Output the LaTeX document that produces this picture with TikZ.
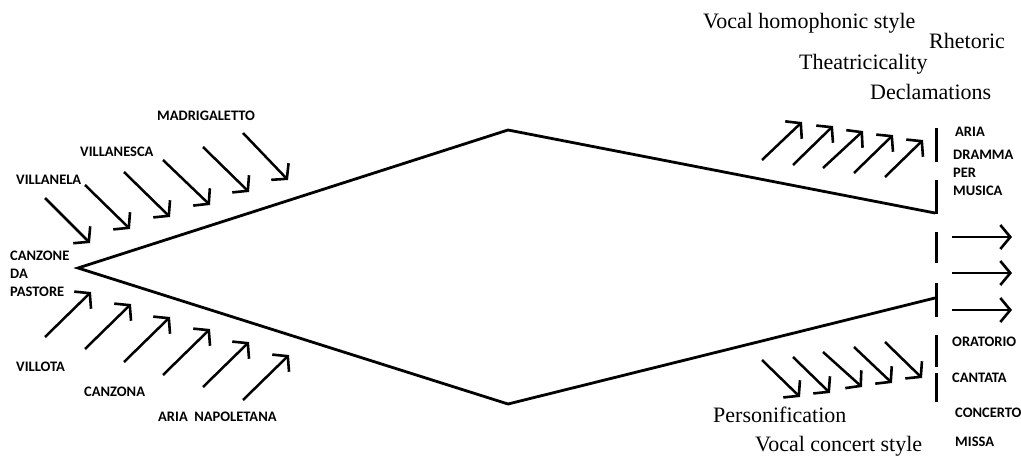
\documentclass[tikz,border=0pt]{standalone}
\usepackage{fontspec}
\setmainfont{Liberation Serif}
\newfontfamily\capsfont[BoldFont={Carlito Bold}]{Carlito}
\usetikzlibrary{arrows.meta}
\tikzset{
  arr/.style={line width=2.5pt, -{Straight Barb[length=10pt,width=24pt,line width=2.6pt]}},
  outline/.style={line width=2.8pt, line join=miter},
  bar/.style={line width=3pt},
  caps/.style={font=\capsfont\bfseries\fontsize{14.5}{18}\selectfont, inner sep=0pt, align=left},
  serif/.style={font=\fontsize{22}{24}\selectfont, inner sep=0pt}
}
\begin{document}
\begin{tikzpicture}[x=1pt,y=-1pt]
\useasboundingbox (0,0) rectangle (1021,458);
% main outline
\draw[outline] (935,213) -- (508,130) -- (78,268) -- (508,404) -- (935,298);
% bars on the right edge
\foreach \a/\b in {128/162,180/214,232/263,283/317,335/367,373/402}
  \draw[bar] (936,\a) -- (936,\b);
% outgoing arrows
\foreach \y in {237,273,310}
  \draw[arr] (952,\y) -- (1012,\y);
% upper left arrows
\foreach \sx/\sy/\tx/\ty in {45/198/90/243, 85/185/130/229, 124/172/170/217, 163/160/210/205, 203/147/249/192, 243/133/288/180}
  \draw[arr] (\sx,\sy) -- (\tx,\ty);
% lower left arrows
\foreach \sx/\sy/\tx/\ty in {45/337/91/292, 85/349/131/304, 124/362/170/317, 163/375/210/329, 203/387/249/342, 243/400/289/355}
  \draw[arr] (\sx,\sy) -- (\tx,\ty);
% upper right arrows
\foreach \sx/\sy/\tx/\ty in {762/160/802/122, 793/165/833/126, 823/168/863/131, 854/173/893/135, 885/177/923/140}
  \draw[arr] (\sx,\sy) -- (\tx,\ty);
% lower right arrows
\foreach \sx/\sy/\tx/\ty in {762/360/800/397, 793/357/830/393, 823/352/862/387, 854/347/892/383, 885/342/922/378}
  \draw[arr] (\sx,\sy) -- (\tx,\ty);
% genre labels
\node[caps, anchor=west] (madrigaletto) at (157,116) {MADRIGALETTO};
\node[caps, anchor=west] (villanesca) at (80,152) {VILLANESCA};
\node[caps, anchor=west] (villanela) at (16,180) {VILLANELA};
\node[caps, anchor=west] (canzone) at (10,274) {CANZONE\\DA\\PASTORE};
\node[caps, anchor=west] (villota) at (16,367) {VILLOTA};
\node[caps, anchor=west] (canzona) at (84,392) {CANZONA};
\node[caps, anchor=west] (napoletana) at (158,417) {ARIA\ \ NAPOLETANA};
\node[caps, anchor=west] (aria) at (955,132) {ARIA};
\node[caps, anchor=west] (dramma) at (953,173) {DRAMMA\\PER\\MUSICA};
\node[caps, anchor=west] (oratorio) at (952,342) {ORATORIO};
\node[caps, anchor=west] (cantata) at (952,378) {CANTATA};
\node[caps, anchor=west] (concerto) at (955,413) {CONCERTO};
\node[caps, anchor=west] (missa) at (955,442) {MISSA};
% stylistic features
\node[serif, anchor=west] (homophonic) at (703,23) {Vocal homophonic style};
\node[serif, anchor=west] (rhetoric) at (929,41) {Rhetoric};
\node[serif, anchor=west] (theatre) at (799,64) {Theatricicality};
\node[serif, anchor=west] (declam) at (870,92) {Declamations};
\node[serif, anchor=west] (person) at (713,415) {Personification};
\node[serif, anchor=west] (concert) at (755,446) {Vocal concert style};
\end{tikzpicture}
\end{document}
